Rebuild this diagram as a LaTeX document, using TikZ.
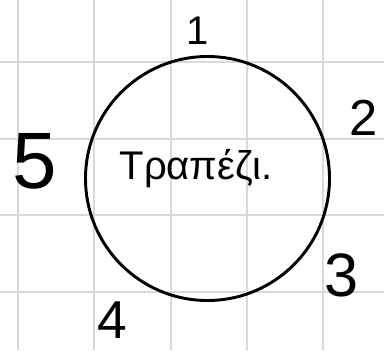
\documentclass[tikz,border=0pt]{standalone}
\usepackage{fontspec}
\setmainfont{Liberation Sans}
\usepackage{tikz}
\usetikzlibrary{positioning}

\begin{document}
\begin{tikzpicture}[
    x=0.75pt, y=-0.75pt,
    gridline/.style={draw=black!15, line width=1.5pt},
    tbl/.style={draw, circle, line width=2.2pt, minimum size=183pt, inner sep=0pt},
    seat/.style={inner sep=0pt},
  ]
  \useasboundingbox (0,0) rectangle (384,350);
  % squared paper
  \foreach \gx in {18,94.3,170.6,246.9,323.2}
    \draw[gridline] (\gx,0) -- (\gx,350);
  \foreach \gy in {62.3,139,215.3,291.6}
    \draw[gridline] (0,\gy) -- (384,\gy);
  % table and seats
  \node[tbl] (table) at (207.5,178.5) {};
  \node[seat, font=\fontsize{30}{36}\selectfont] (tname) at (196,169) {Τραπέζι.};
  \node[seat, font=\fontsize{30}{36}\selectfont] (s1) at (198,31) {1};
  \node[seat, font=\fontsize{38}{44}\selectfont] (s2) at (364,118) {2};
  \node[seat, font=\fontsize{46}{52}\selectfont] (s3) at (342,275) {3};
  \node[seat, font=\fontsize{40}{46}\selectfont] (s4) at (112,320) {4};
  \node[seat, font=\fontsize{60}{68}\selectfont] (s5) at (35,161) {5};
\end{tikzpicture}
\end{document}
